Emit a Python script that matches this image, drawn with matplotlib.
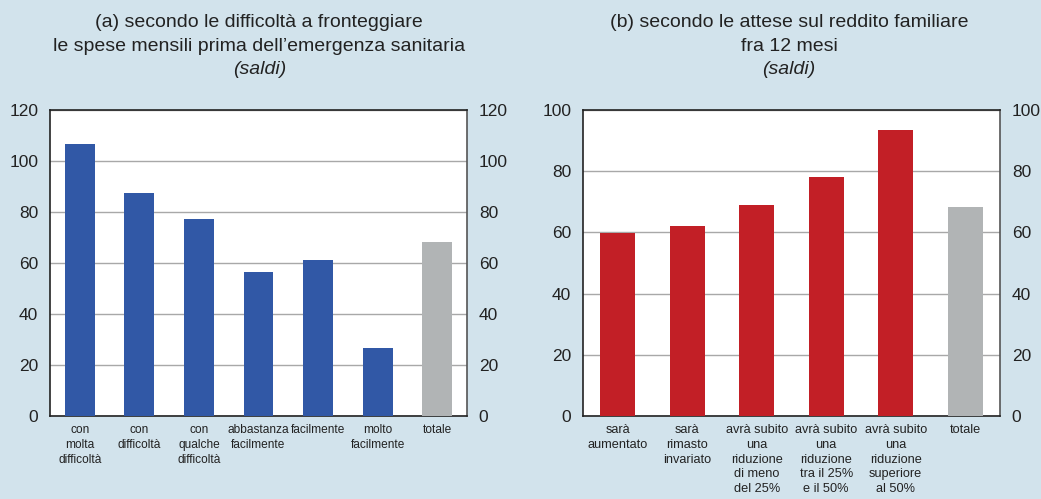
import numpy as np
import matplotlib.pyplot as plt

plt.rcParams['font.family'] = ['Liberation Sans', 'DejaVu Sans']

# panel (a)
cats_a = ['con\nmolta\ndifficoltà', 'con\ndifficoltà', 'con\nqualche\ndifficoltà',
          'abbastanza\nfacilmente', 'facilmente', 'molto\nfacilmente', 'totale']
vals_a = [106.7, 87.5, 77.3, 56.5, 61.2, 26.7, 68.2]

# panel (b)
cats_b = ['sarà\naumentato', 'sarà\nrimasto\ninvariato',
          'avrà subito\nuna\nriduzione\ndi meno\ndel 25%',
          'avrà subito\nuna\nriduzione\ntra il 25%\ne il 50%',
          'avrà subito\nuna\nriduzione\nsuperiore\nal 50%', 'totale']
vals_b = [59.8, 62.1, 69.0, 78.1, 93.5, 68.3]

bg = '#d2e3ec'
blue = '#3158a6'
red = '#c21f26'
grey = '#b1b4b5'
txt = '#222222'

fig = plt.figure(figsize=(10.41, 4.99), dpi=100, facecolor=bg)

def panel(rect, cats, vals, color, ymax, catsize):
    ax = fig.add_axes(rect)
    x = np.arange(len(cats))
    colors = [color] * (len(cats) - 1) + [grey]
    ax.bar(x, vals, width=0.5, color=colors, zorder=3)
    ax.set_xlim(-0.5, len(cats) - 0.5)
    ax.set_ylim(0, ymax)
    ax.set_yticks(np.arange(0, ymax + 1, 20))
    ax.grid(axis='y', color='#a8a8a8', linewidth=1, zorder=0)
    ax.set_xticks(x)
    ax.set_xticklabels(cats, fontsize=catsize, color=txt, linespacing=1.3)
    ax.tick_params(axis='x', length=0, pad=6)
    ax.tick_params(axis='y', length=0, labelsize=12.5, labelcolor=txt, pad=8.5,
                   labelleft=True, labelright=True)
    for s in ['left', 'bottom', 'top']:
        ax.spines[s].set_color(txt)
        ax.spines[s].set_linewidth(1.2)
    ax.spines['right'].set_color('#555555')
    ax.spines['right'].set_linewidth(1.2)
    ax.set_facecolor('white')
    return ax

ax1 = panel([0.048, 0.1663, 0.4006, 0.6133], cats_a, vals_a, blue, 120, 8.6)
ax2 = panel([0.56, 0.1663, 0.4006, 0.6133], cats_b, vals_b, red, 100, 9.2)

# panel titles, one line at a time
for xc, lines in [(0.249, ["(a) secondo le difficoltà a fronteggiare",
                           "le spese mensili prima dell’emergenza sanitaria"]),
                  (0.758, ["(b) secondo le attese sul reddito familiare",
                           "fra 12 mesi"])]:
    fig.text(xc, 0.946, lines[0], ha='center', va='baseline', fontsize=14, color=txt)
    fig.text(xc, 0.898, lines[1], ha='center', va='baseline', fontsize=14, color=txt)
    fig.text(xc, 0.852, "(saldi)", ha='center', va='baseline', fontsize=14,
             style='italic', color=txt)

fig.savefig('out.png', dpi=100, facecolor=bg)
